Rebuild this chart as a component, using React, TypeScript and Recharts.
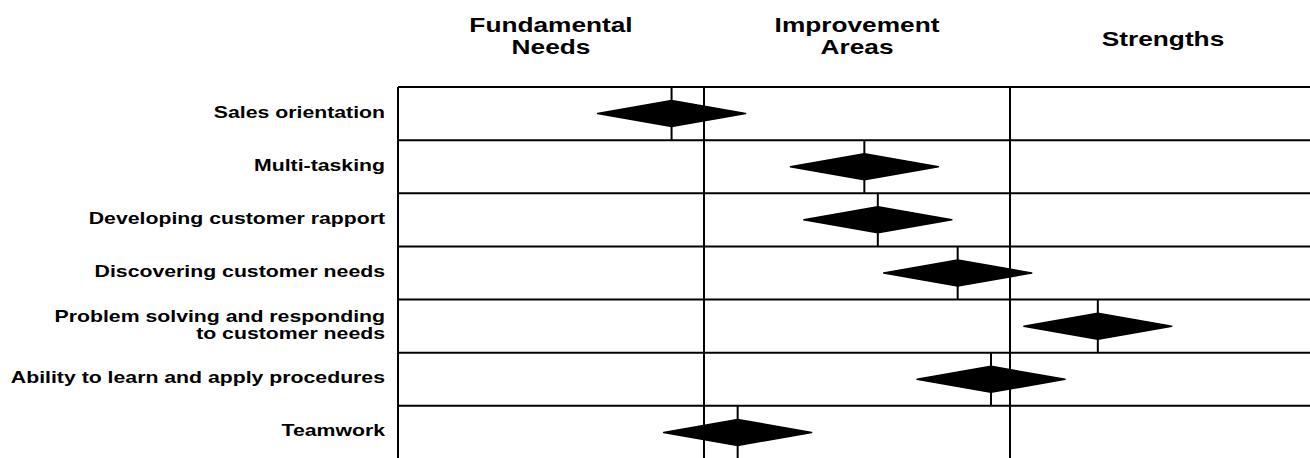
import React from 'react'
import { ScatterChart, Scatter, XAxis, YAxis, ReferenceLine, ErrorBar } from 'recharts'

const skills = [
  'Sales orientation',
  'Multi-tasking',
  'Developing customer rapport',
  'Discovering customer needs',
  'Problem solving and responding\nto customer needs',
  'Ability to learn and apply procedures',
  'Teamwork'
]

const scores = [0.894, 1.524, 1.568, 1.829, 2.287, 1.938, 1.11]

const zones = ['Fundamental\nNeeds', 'Improvement\nAreas', 'Strengths']
const zoneTicks = [0.5, 1.5, 2.5]
const zoneBounds = [0, 1, 2, 3]

const rowTicks = skills.map((_, i) => i + 0.5)
const rowBounds = skills.map((_, i) => i).concat([skills.length])

const data = skills.map((name, i) => ({ name, x: scores[i], y: i + 0.5, half: 0.5 }))

const FONT = '"Liberation Sans", Arial, sans-serif'
const STRETCH = 1.25

const SkillTick = (props: any) => {
  const { x, y, payload } = props
  const lines = skills[Math.floor(payload.value)].split('\n')
  const start = lines.length === 1 ? 4 : -4.5
  return (
    <g transform={`translate(${x - 5},${y}) scale(${STRETCH},1)`}>
      <text textAnchor="end" fontFamily={FONT} fontWeight="bold" fontSize={17} fill="#000">
        {lines.map((l, i) => (
          <tspan key={i} x={0} y={start + i * 17.5}>{l}</tspan>
        ))}
      </text>
    </g>
  )
}

const ZoneTick = (props: any) => {
  const { x, payload } = props
  const lines = zones[zoneTicks.indexOf(payload.value)].split('\n')
  const base = lines.length === 1 ? [46.5] : [32, 54]
  return (
    <g transform={`translate(${x},0) scale(${STRETCH},1)`}>
      <text textAnchor="middle" fontFamily={FONT} fontWeight="bold" fontSize={21} fill="#000">
        {lines.map((l, i) => (
          <tspan key={i} x={0} y={base[i]}>{l}</tspan>
        ))}
      </text>
    </g>
  )
}

const Diamond = (props: any) => {
  const { cx, cy } = props
  if (cx == null || cy == null) return null
  const pts = `${cx - 74},${cy} ${cx},${cy - 13} ${cx + 74},${cy} ${cx},${cy + 13}`
  return <polygon points={pts} fill="#000" stroke="#000" strokeWidth={1.5} strokeLinejoin="round" />
}

export default function App() {
  return (
    <div style={{ position: 'absolute', left: 0, top: 0, width: 1310, height: 458, overflow: 'hidden', background: '#fff' }}>
      <ScatterChart width={1320} height={470} margin={{ top: 0, right: 4, bottom: 11, left: 0 }}>
        <XAxis
          type="number"
          dataKey="x"
          orientation="top"
          domain={[0, 3]}
          ticks={zoneTicks}
          height={87}
          axisLine={false}
          tickLine={false}
          tick={<ZoneTick />}
          interval={0}
        />
        <YAxis
          type="number"
          dataKey="y"
          domain={[0, skills.length]}
          reversed
          ticks={rowTicks}
          width={398}
          axisLine={false}
          tickLine={false}
          tick={<SkillTick />}
          interval={0}
        />
        {rowBounds.map(b => (
          <ReferenceLine key={`h${b}`} y={b} stroke="#000" strokeWidth={2} />
        ))}
        {zoneBounds.map(b => (
          <ReferenceLine key={`v${b}`} x={b} stroke="#000" strokeWidth={2} />
        ))}
        <Scatter data={data} shape={<Diamond />} isAnimationActive={false}>
          <ErrorBar dataKey="half" direction="y" width={0} stroke="#000" strokeWidth={2} isAnimationActive={false} />
        </Scatter>
      </ScatterChart>
    </div>
  )
}
